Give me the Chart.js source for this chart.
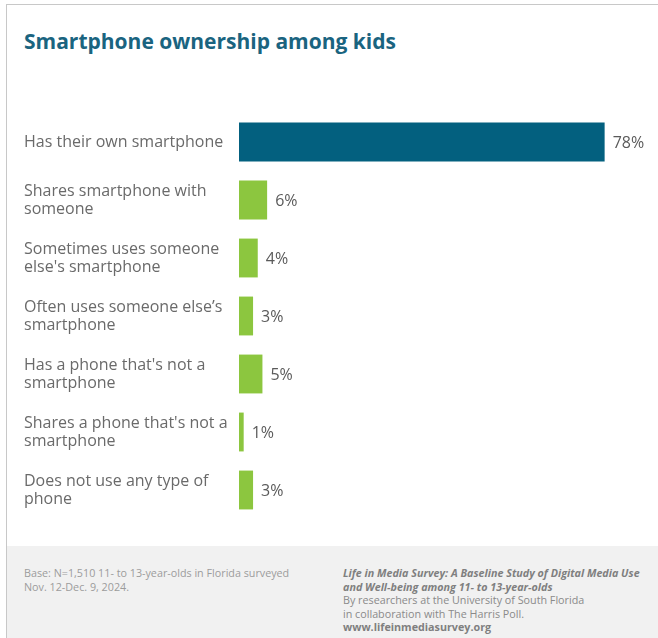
<!DOCTYPE html>
<html>
<head>
<meta charset="utf-8">
<script src="https://cdn.jsdelivr.net/npm/chart.js@4/dist/chart.umd.min.js"></script>
<style>
  html, body { margin: 0; padding: 0; background: #fff; }
  #card { position: relative; width: 658px; height: 638px; overflow: hidden; font-family: "Open Sans", sans-serif; }
  #topline { position: absolute; left: 6px; top: 4px; width: 652px; height: 1px; background: #c8c8c8; }
  #leftline { position: absolute; left: 6px; top: 4px; width: 1px; height: 634px; background: #c8c8c8; }
  #title { position: absolute; left: 24px; top: 27px; font-size: 21px; line-height: 28px; font-weight: 700; color: #1a6480; white-space: nowrap; }
  #chartbox { position: absolute; left: 0; top: 0; width: 658px; height: 546px; }
  #footer { position: absolute; left: 7px; top: 546px; width: 651px; height: 92px; background: #f1f1f1; }
  .ft { position: absolute; font-size: 10.75px; line-height: 13.5px; color: #9c9c9c; white-space: nowrap; }
  #ftleft { left: 17px; top: 21px; }
  #ftright { left: 336px; top: 21px; color: #8a8a8a; }
  #ftright .cite { font-weight: 700; font-style: italic; color: #7f7f7f; }
  #ftright .url { font-weight: 700; color: #7f7f7f; }
</style>
</head>
<body>
<div id="card">
  <div id="topline"></div>
  <div id="leftline"></div>
  <div id="title">Smartphone ownership among kids</div>
  <div id="chartbox"><canvas id="chart" width="658" height="546"></canvas></div>
  <div id="footer">
    <div class="ft" id="ftleft">Base: N=1,510 11- to 13-year-olds in Florida surveyed<br>Nov. 12-Dec. 9, 2024.</div>
    <div class="ft" id="ftright"><span class="cite">Life in Media Survey: A Baseline Study of Digital Media Use<br>and Well-being among 11- to 13-year-olds</span><br>By researchers at the University of South Florida<br>in collaboration with The Harris Poll.<br><span class="url">www.lifeinmediasurvey.org</span></div>
  </div>
</div>
<script>
// Category labels (already split into display lines)
const categories = [
  ["Has their own smartphone"],
  ["Shares smartphone with", "someone"],
  ["Sometimes uses someone", "else's smartphone"],
  ["Often uses someone else\u2019s", "smartphone"],
  ["Has a phone that's not a", "smartphone"],
  ["Shares a phone that's not a", "smartphone"],
  ["Does not use any type of", "phone"]
];
// Share of kids, percent
const shares = [78, 6, 4, 3, 5, 1, 3];
const valueLabels = ["78%", "6%", "4%", "3%", "5%", "1%", "3%"];

const OWN_COLOR = "#03607f";
const OTHER_COLOR = "#8cc63f";

const valueLabelPlugin = {
  id: "valueLabels",
  afterDatasetsDraw(chart) {
    const ctx = chart.ctx;
    const meta = chart.getDatasetMeta(0);
    ctx.save();
    ctx.font = "16px 'Open Sans'";
    ctx.fillStyle = "#5a5a5a";
    ctx.textAlign = "left";
    ctx.textBaseline = "middle";
    meta.data.forEach((bar, i) => {
      ctx.fillText(valueLabels[i], bar.x + 8, bar.y + 1);
    });
    ctx.restore();
  }
};

new Chart(document.getElementById("chart"), {
  type: "bar",
  data: {
    labels: categories,
    datasets: [{
      data: shares,
      backgroundColor: shares.map((_, i) => i === 0 ? OWN_COLOR : OTHER_COLOR),
      categoryPercentage: 1,
      barPercentage: 0.67,
      borderWidth: 0
    }]
  },
  options: {
    indexAxis: "y",
    responsive: false,
    animation: false,
    layout: { padding: { left: 24, right: 44, top: 113, bottom: 27 } },
    plugins: { legend: { display: false }, tooltip: { enabled: false } },
    scales: {
      x: { display: false, min: 0, max: 80 },
      y: {
        grid: { display: false, drawTicks: false },
        border: { display: false },
        afterFit(scale) { scale.width = 215; },
        ticks: {
          crossAlign: "far",
          padding: 0,
          color: "#6a6a6a",
          font: { family: "'Open Sans'", size: 16, lineHeight: 1.125 }
        }
      }
    }
  },
  plugins: [valueLabelPlugin]
});
</script>
</body>
</html>
